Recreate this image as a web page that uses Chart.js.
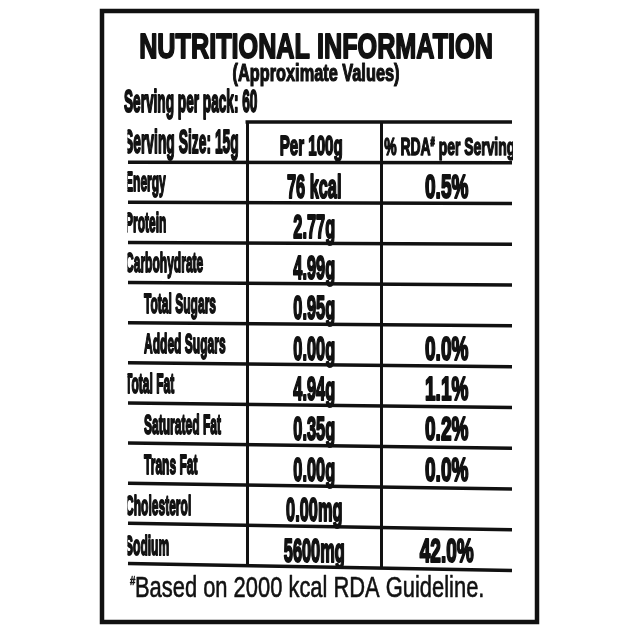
<!DOCTYPE html>
<html><head><meta charset="utf-8">
<script src="https://cdn.jsdelivr.net/npm/chart.js@4.4.1/dist/chart.umd.min.js"></script>
<style>html,body{margin:0;padding:0;background:#fff}#wrap{width:640px;height:632px;position:relative}</style>
</head><body><div id="wrap"><canvas id="c"></canvas></div>
<script>
// ---- data ----
const title = 'NUTRITIONAL INFORMATION';
const subtitle = '(Approximate Values)';
const servingsPerPack = 'Serving per pack: 60';
const headerCells = ['Serving Size: 15g', 'Per 100g', '% RDA# per Serving'];
const nutrients = ['Energy', 'Protein', 'Carbohydrate', 'Total Sugars', 'Added Sugars', 'Total Fat', 'Saturated Fat', 'Trans Fat', 'Cholesterol', 'Sodium'];
const indented = [false, false, false, true, true, false, true, true, false, false];
const per100g = ['76 kcal', '2.77g', '4.99g', '0.95g', '0.00g', '4.94g', '0.35g', '0.00g', '0.00mg', '5600mg'];
const rdaPerServing = ['0.5%', '', '', '', '0.0%', '1.1%', '0.2%', '0.0%', '', '42.0%'];
const footnote = ['#', 'Based on 2000 kcal RDA Guideline.'];
const colEdges = [0, 31, 66, 100];
const yLabels = ['header'].concat(nutrients);

const ink = '#111';

function drawParts(ctx, parts, x, y, o) {
  ctx.save();
  ctx.fillStyle = ink; ctx.strokeStyle = ink;
  ctx.textBaseline = 'alphabetic'; ctx.textAlign = 'left';
  let total = 0;
  parts.forEach(p => { ctx.font = `${o.weight} ${p.size}px ${o.family}`; p.w = ctx.measureText(p.s).width * o.sx; total += p.w; });
  let cx = x;
  if (o.align === 'center') cx = x - total / 2;
  else if (o.align === 'right') cx = x - total;
  parts.forEach(p => {
    ctx.save();
    ctx.translate(cx, y + (p.dy || 0));
    ctx.scale(o.sx, 1);
    ctx.font = `${o.weight} ${p.size}px ${o.family}`;
    if (o.stroke) { ctx.lineWidth = o.stroke; ctx.lineJoin = 'round'; ctx.strokeText(p.s, 0, 0); }
    ctx.fillText(p.s, 0, 0);
    ctx.restore();
    cx += p.w;
  });
  ctx.restore();
}
function one(s, size) { return [{ s, size }]; }
function withHash(s, size, hsize, dy) {
  const i = s.indexOf('#');
  if (i < 0) return one(s, size);
  const a = [];
  if (i > 0) a.push({ s: s.slice(0, i), size });
  a.push({ s: '#', size: hsize, dy });
  if (i < s.length - 1) a.push({ s: s.slice(i + 1), size });
  return a;
}

const labelPlugin = {
  id: 'labelPlugin',
  beforeDraw(chart) {
    const ctx = chart.ctx;
    ctx.save(); ctx.fillStyle = '#fff'; ctx.fillRect(0, 0, chart.width, chart.height); ctx.restore();
  },
  beforeDatasetsDraw(chart) {
    // horizontal row rules, positioned by the category scale (slightly warped as on the printed label)
    const ctx = chart.ctx;
    const xs = chart.scales.x, ys = chart.scales.y;
    const band = ys.getPixelForValue(1) - ys.getPixelForValue(0);
    const n = yLabels.length;
    ctx.save(); ctx.strokeStyle = ink; ctx.lineWidth = 3.5; ctx.lineCap = 'butt';
    for (let k = 0; k <= n; k++) {
      const y = ys.getPixelForValue(k) - band / 2;
      const tilt = 7 * k / n;
      const x0 = k === 0 ? xs.getPixelForValue(colEdges[1]) - 1.5 : xs.getPixelForValue(colEdges[0]);
      const x1 = xs.getPixelForValue(colEdges[3]);
      const xm = (xs.getPixelForValue(colEdges[0]) + x1) / 2;
      const slope = tilt / (x1 - xs.getPixelForValue(colEdges[0]));
      ctx.beginPath();
      ctx.moveTo(x0, y + (x0 - xm) * slope);
      ctx.lineTo(x1, y + (x1 - xm) * slope);
      ctx.stroke();
    }
    ctx.restore();
  },
  afterDraw(chart) {
    const ctx = chart.ctx;
    const xs = chart.scales.x, ys = chart.scales.y;
    const ca = chart.chartArea;
    const B = { weight: 'bold', family: "'Liberation Sans', Arial, sans-serif" };
    const cond = (sx, stroke) => Object.assign({}, B, { sx, stroke });

    // outer frame
    ctx.save();
    ctx.strokeStyle = ink; ctx.lineWidth = 4.5;
    ctx.strokeRect(102, 11, 435, 611);
    ctx.restore();

    const midX = (ca.left + ca.right) / 2;
    drawParts(ctx, one(title, 35), midX - 4, ca.top - 64, Object.assign(cond(0.72, 1.8), { align: 'center' }));
    drawParts(ctx, one(subtitle, 23), midX - 4, ca.top - 41, Object.assign(cond(0.71, 1.2), { align: 'center' }));
    drawParts(ctx, one(servingsPerPack, 31), ca.left - 4, ca.top - 10, Object.assign(cond(0.44, 2.0), { align: 'left' }));

    ctx.save();
    ctx.beginPath(); ctx.rect(ca.left - 0.5, ca.top - 2, ca.right - ca.left + 1.5, ca.bottom - ca.top + 4); ctx.clip();

    const c1 = xs.getPixelForValue((colEdges[1] + colEdges[2]) / 2);
    const c2 = xs.getPixelForValue((colEdges[2] + colEdges[3]) / 2);
    const yh = ys.getPixelForValue(0);
    drawParts(ctx, one(headerCells[0], 33), ca.left - 4, yh + 11, Object.assign(cond(0.42, 2.0), { align: 'left' }));
    drawParts(ctx, one(headerCells[1], 28), c1 - 3, yh + 13, Object.assign(cond(0.54, 1.8), { align: 'center' }));
    drawParts(ctx, withHash(headerCells[2], 24, 13, -9), c2 + 3, yh + 13, Object.assign(cond(0.58, 1.5), { align: 'center' }));

    nutrients.forEach((n, i) => {
      const yc = ys.getPixelForValue(i + 1);
      const lx = ca.left - 3 + (indented[i] ? 19 : 0);
      drawParts(ctx, one(n, 28), lx, yc + 8.5, Object.assign(cond(0.43, 1.9), { align: 'left' }));
      drawParts(ctx, one(per100g[i], 34), c1, yc + 15, Object.assign(cond(0.48, 2.2), { align: 'center' }));
      if (rdaPerServing[i]) drawParts(ctx, one(rdaPerServing[i], 34), c2, yc + 15, Object.assign(cond(0.56, 2.2), { align: 'center' }));
    });
    ctx.restore();

    const R = { weight: 'normal', family: "'Liberation Sans', Arial, sans-serif", sx: 0.73, stroke: 0.6, align: 'left' };
    drawParts(ctx, one(footnote[0], 13), ca.left + 2, ca.bottom + 18, R);
    drawParts(ctx, one(footnote[1], 30), ca.left + 7, ca.bottom + 30, R);
  }
};

new Chart(document.getElementById('c'), {
  type: 'scatter',
  data: { labels: yLabels, datasets: [] },
  options: {
    responsive: true, maintainAspectRatio: false, animation: false, events: [],
    layout: { padding: { left: 128, right: 128, top: 122, bottom: 65 } },
    plugins: { legend: { display: false }, tooltip: { enabled: false }, title: { display: false } },
    scales: {
      x: {
        type: 'linear', min: 0, max: 100,
        afterBuildTicks: s => { s.ticks = colEdges.map(v => ({ value: v })); },
        ticks: { display: false },
        grid: { drawTicks: false, lineWidth: 3, color: c => (c.index > 0 && c.index < colEdges.length - 1) ? ink : 'rgba(0,0,0,0)' },
        border: { display: false }
      },
      y: {
        type: 'category', labels: yLabels, offset: true,
        ticks: { display: false },
        grid: { display: false, drawTicks: false },
        border: { display: false }
      }
    }
  },
  plugins: [labelPlugin]
});
</script></body></html>
